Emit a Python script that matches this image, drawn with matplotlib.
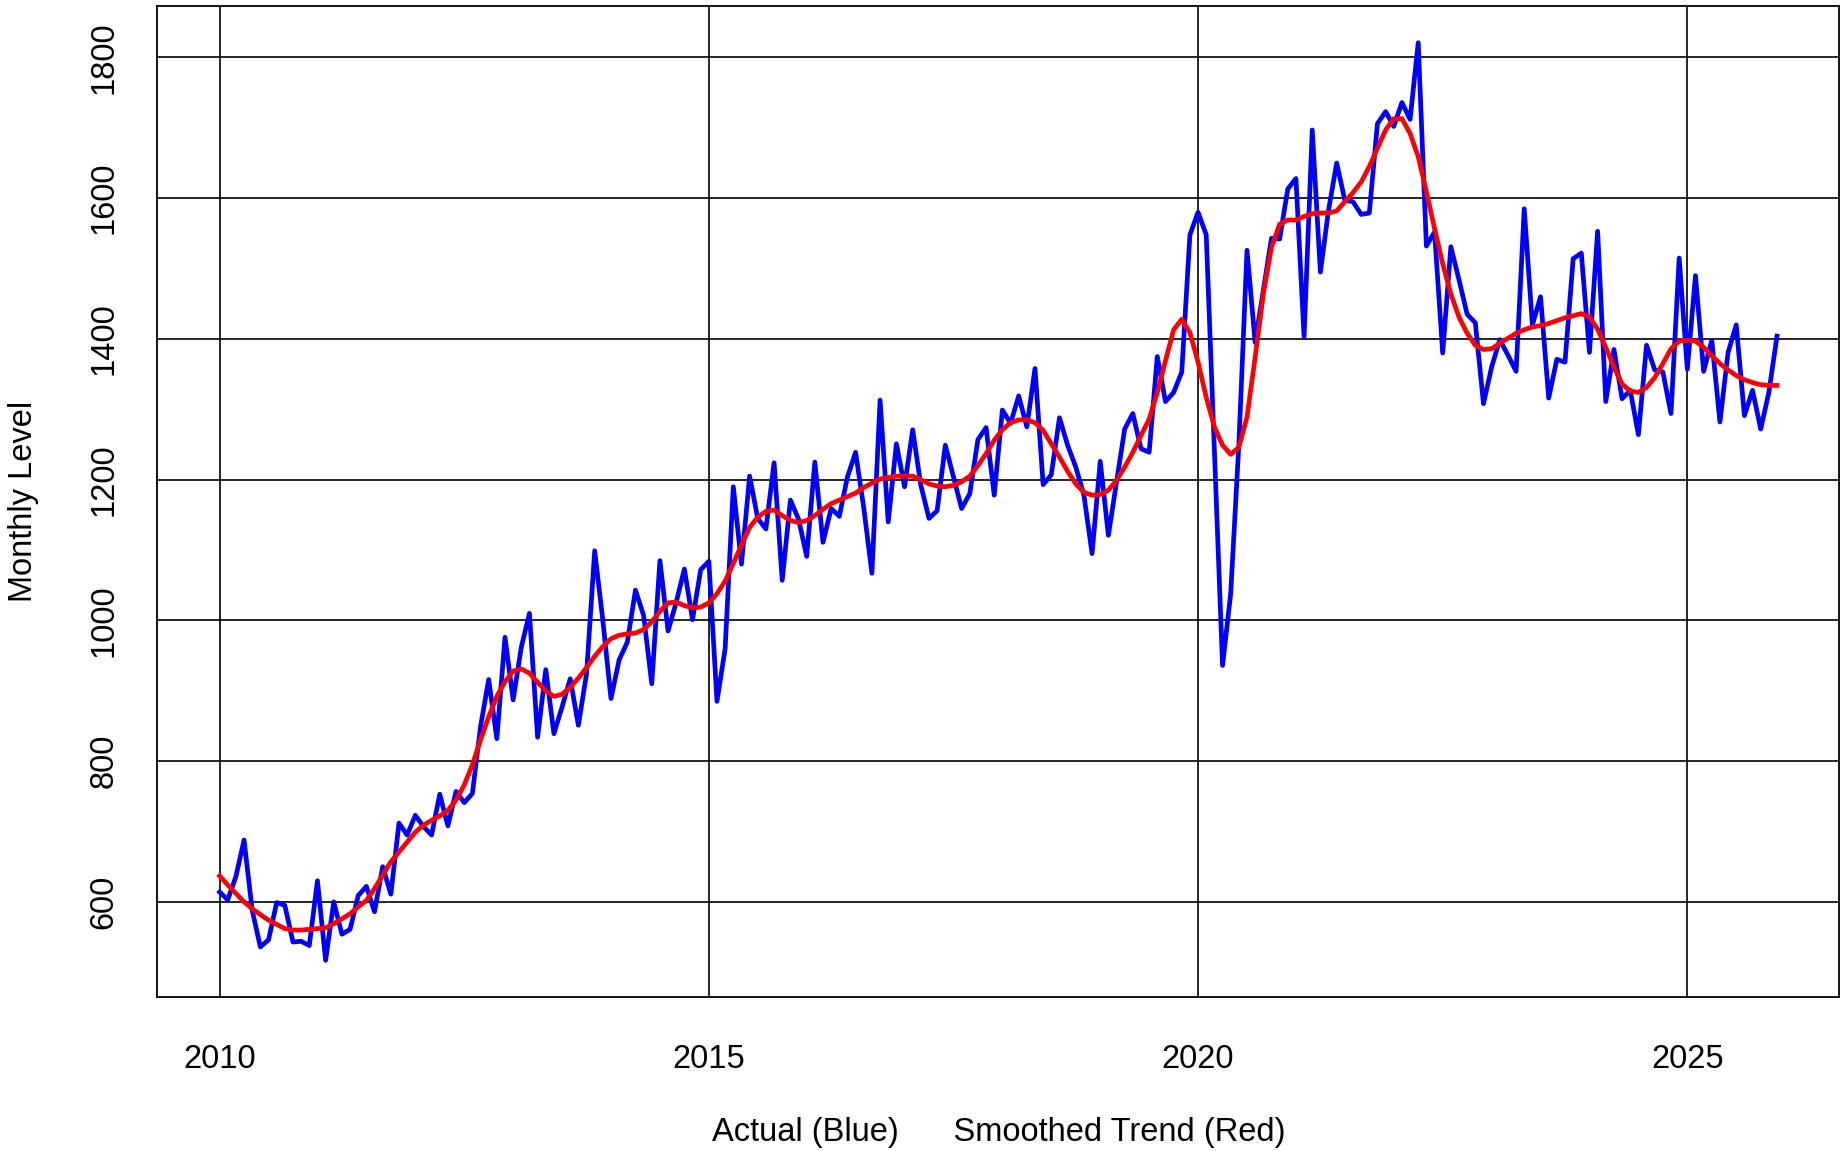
import numpy as np
import matplotlib
matplotlib.use("Agg")
import matplotlib.pyplot as plt

plt.rcParams['font.family'] = ['Liberation Sans', 'DejaVu Sans']

# monthly series, Jan 2010 .. Dec 2025
start_year = 2010

actual = [
    614, 603, 636, 688, 588, 536, 546, 599, 595, 543, 544, 538,
    630, 517, 600, 554, 561, 609, 622, 586, 650, 611, 712, 695,
    723, 707, 695, 753, 708, 757, 741, 754, 849, 916, 832, 976,
    887, 962, 1010, 834, 930, 839, 877, 917, 851, 924, 1099, 1000,
    889, 944, 969, 1043, 1007, 910, 1085, 985, 1026, 1073, 1001, 1072,
    1084, 885, 960, 1190, 1080, 1205, 1145, 1130, 1224, 1057, 1171, 1144,
    1091, 1225, 1111, 1159, 1148, 1204, 1239, 1160, 1067, 1313, 1140, 1251,
    1190, 1271, 1192, 1145, 1156, 1249, 1204, 1159, 1180, 1257, 1274, 1178,
    1299, 1280, 1319, 1275, 1358, 1193, 1207, 1288, 1249, 1218, 1178, 1095,
    1226, 1121, 1196, 1272, 1294, 1244, 1239, 1375, 1311, 1324, 1353, 1548,
    1580, 1548, 1240, 936, 1038, 1250, 1526, 1395, 1469, 1543, 1542, 1613,
    1628, 1403, 1697, 1495, 1583, 1650, 1597, 1595, 1577, 1579, 1706, 1723,
    1702, 1736, 1712, 1821, 1532, 1552, 1380, 1531, 1484, 1435, 1423, 1308,
    1360, 1399, 1377, 1354, 1585, 1420, 1460, 1316, 1371, 1367, 1514, 1522,
    1381, 1553, 1311, 1385, 1315, 1327, 1264, 1391, 1356, 1353, 1294, 1515,
    1357, 1490, 1354, 1398, 1282, 1381, 1420, 1291, 1327, 1272, 1324, 1404,
]

trend = [
    637, 624, 612, 600, 590, 582, 574, 568, 562, 560, 560, 561,
    562, 563, 569, 576, 583, 593, 602, 619, 638, 657, 671, 685,
    699, 709, 716, 722, 730, 745, 766, 795, 830, 863, 892, 913,
    928, 931, 925, 912, 900, 892, 895, 905, 918, 933, 949, 963,
    974, 979, 981, 982, 987, 998, 1013, 1025, 1026, 1021, 1018, 1019,
    1025, 1038, 1056, 1081, 1107, 1132, 1147, 1155, 1157, 1149, 1142, 1139,
    1142, 1149, 1158, 1166, 1171, 1176, 1181, 1189, 1195, 1201, 1203, 1205,
    1205, 1205, 1200, 1194, 1191, 1190, 1192, 1197, 1205, 1220, 1237, 1256,
    1271, 1281, 1285, 1285, 1281, 1270, 1251, 1232, 1212, 1194, 1182, 1178,
    1179, 1185, 1199, 1218, 1239, 1263, 1286, 1324, 1369, 1413, 1428, 1409,
    1367, 1317, 1275, 1249, 1236, 1246, 1289, 1374, 1464, 1530, 1563, 1569,
    1569, 1574, 1578, 1579, 1579, 1582, 1595, 1608, 1623, 1645, 1671, 1697,
    1713, 1713, 1692, 1659, 1609, 1557, 1507, 1464, 1431, 1408, 1391, 1385,
    1386, 1394, 1401, 1408, 1413, 1417, 1419, 1422, 1426, 1430, 1433, 1436,
    1431, 1414, 1388, 1360, 1336, 1326, 1324, 1331, 1345, 1365, 1386, 1397,
    1398, 1397, 1388, 1376, 1365, 1356, 1348, 1342, 1338, 1335, 1334, 1334,
]

x_ticks = [2010, 2015, 2020, 2025]
y_ticks = [600, 800, 1000, 1200, 1400, 1600, 1800]

t = start_year + np.arange(len(actual)) / 12.0

fig = plt.figure(figsize=(18.49, 11.51), dpi=100)
ax = fig.add_axes([157.3 / 1849, 1 - 997 / 1151, (1839.3 - 157.3) / 1849, (997 - 6) / 1151])

ax.plot(t, actual, color="blue", lw=3.4, zorder=3)
ax.plot(t, trend, color="red", lw=3.4, zorder=4)
ax.margins(x=0.04, y=0.04)

ax.set_xticks(x_ticks)
ax.set_yticks(y_ticks)
ax.set_yticklabels([str(v) for v in y_ticks], rotation=90, va="center")
ax.tick_params(length=0, labelsize=23.5)
ax.tick_params(axis="x", pad=34)
ax.tick_params(axis="y", pad=27)

for v in x_ticks:
    ax.axvline(v, color="black", lw=1.2, zorder=1)
for v in y_ticks:
    ax.axhline(v, color="black", lw=1.2, zorder=1)

for s in ax.spines.values():
    s.set_linewidth(1.3)

ax.set_ylabel("Monthly Level", fontsize=23.5, va="center")
ax.yaxis.set_label_coords((24 - 157.3) / 1682, 0.5)
ax.set_xlabel("Actual (Blue)      Smoothed Trend (Red)", fontsize=23.5, va="center")
ax.xaxis.set_label_coords(0.5, (997 - 1132) / 991)

fig.savefig("out.png", dpi=100)
